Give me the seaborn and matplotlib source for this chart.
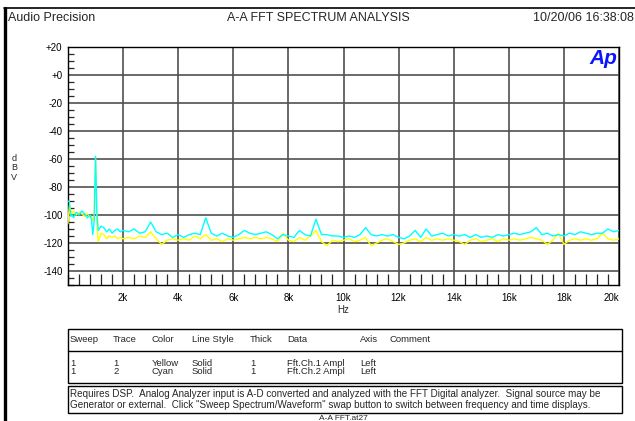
import numpy as np
import pandas as pd
import seaborn as sns
import matplotlib.pyplot as plt
from matplotlib.lines import Line2D
from matplotlib.patches import Rectangle
from matplotlib.ticker import MultipleLocator, FixedLocator, FixedFormatter

# frequency grid (Hz): finer around the 1 kHz tone, 200 Hz steps above 2 kHz
freq_low = [0, 50, 100, 150, 200, 300, 400, 500, 600, 700, 800, 850, 900, 950,
            1000, 1050, 1100, 1200, 1300, 1400, 1500, 1600, 1700, 1800, 1900, 2000]
freq_high = list(range(2200, 20001, 200))

# Trace 1 - Fft.Ch.1 Ampl (yellow), dBV
ch1_low = [-106, -93, -97, -99, -97, -100, -98, -99, -101, -99, -102, -101, -104, -102,
           -60, -108, -119, -113, -114, -117, -115, -116, -115, -117, -116, -117]
ch1_high = [
    -116, -117, -115, -116, -112,
    -117, -121, -118, -117, -118,
    -117, -118, -115, -117, -114,
    -118, -117, -119, -117, -118,
    -117, -116, -117, -116, -117,
    -116, -117, -119, -113, -118,
    -119, -116, -118, -115, -111,
    -119, -122, -118, -119, -118,
    -117, -119, -118, -116, -122,
    -120, -118, -117, -119, -121,
    -120, -118, -117, -119, -116,
    -118, -117, -118, -117, -118,
    -119, -121, -118, -117, -119,
    -118, -117, -119, -117, -118,
    -117, -118, -117, -116, -117,
    -118, -121, -118, -113, -121,
    -118, -117, -118, -117, -118,
    -117, -113, -117, -118, -117,
]

# Trace 2 - Fft.Ch.2 Ampl (cyan), dBV
ch2_low = [-90, -90.5, -101, -100, -102, -98, -100, -97, -99, -102, -100, -103, -114, -104,
           -58, -100, -111, -108, -109, -112, -110, -113, -111, -110, -112, -111]
ch2_high = [
    -112, -110, -113, -112, -105,
    -112, -114, -113, -116, -114,
    -116, -114, -113, -114, -102,
    -113, -115, -113, -115, -116,
    -114, -111, -113, -114, -113,
    -112, -114, -117, -114, -115,
    -116, -111, -114, -115, -103,
    -114, -114, -115, -115, -116,
    -115, -116, -114, -109, -114,
    -115, -114, -115, -114, -116,
    -117, -115, -111, -116, -110,
    -115, -114, -113, -115, -114,
    -115, -114, -116, -114, -116,
    -115, -116, -114, -115, -114,
    -113, -114, -113, -112, -109,
    -114, -113, -115, -114, -115,
    -113, -114, -112, -113, -114,
    -113, -113, -110, -112, -111,
]

y_ticks = [20, 0, -20, -40, -60, -80, -100, -120, -140]
y_labels = ['+20', '+0', '-20', '-40', '-60', '-80', '-100', '-120', '-140']
x_ticks = [2000, 4000, 6000, 8000, 10000, 12000, 14000, 16000, 18000, 20000]
x_labels = ['2k', '4k', '6k', '8k', '10k', '12k', '14k', '16k', '18k', '20k']

table_header = ['Sweep', 'Trace', 'Color', 'Line Style', 'Thick', 'Data', 'Axis', 'Comment']
table_rows = [
    ['1', '1', 'Yellow', 'Solid', '1', 'Fft.Ch.1 Ampl', 'Left', ''],
    ['1', '2', 'Cyan', 'Solid', '1', 'Fft.Ch.2 Ampl', 'Left', ''],
]
note_lines = [
    'Requires DSP.  Analog Analyzer input is A-D converted and analyzed with the FFT Digital analyzer.  Signal source may be',
    'Generator or external.  Click "Sweep Spectrum/Waveform" swap button to switch between frequency and time displays.',
]

freq = freq_low + freq_high
df = pd.DataFrame({
    'freq': freq + freq,
    'level': ch1_low + ch1_high + ch2_low + ch2_high,
    'trace': ['Ch.1'] * len(freq) + ['Ch.2'] * len(freq),
})

sns.set_style('white')
plt.rcParams['font.family'] = ['Liberation Sans', 'DejaVu Sans']

W, H = 635, 421
def fx(p):
    return p / W
def fy(p):
    return 1 - p / H

fig = plt.figure(figsize=(W / 100, H / 100), dpi=100)
ax = fig.add_axes([fx(68), fy(285), fx(619) - fx(68), fy(47) - fy(285)])

sns.lineplot(data=df, x='freq', y='level', hue='trace', hue_order=['Ch.1', 'Ch.2'],
             palette={'Ch.1': '#ffff00', 'Ch.2': '#00ffff'}, estimator=None, sort=False,
             lw=1.0, legend=False, ax=ax, zorder=3)

ax.set_xlim(0, 20000)
ax.set_ylim(-150, 20)
ax.set_xlabel('')
ax.set_ylabel('')

ax.yaxis.set_major_locator(FixedLocator(y_ticks))
ax.yaxis.set_major_formatter(FixedFormatter(y_labels))
ax.yaxis.set_minor_locator(MultipleLocator(5))
ax.xaxis.set_major_locator(FixedLocator(x_ticks))
ax.xaxis.set_major_formatter(FixedFormatter(x_labels))
ax.xaxis.set_minor_locator(MultipleLocator(400))

ax.tick_params(axis='both', which='major', length=0, labelsize=7, colors='black')
ax.tick_params(axis='y', which='major', pad=4)
ax.tick_params(axis='x', which='major', pad=6)
ax.tick_params(axis='y', which='minor', direction='in', length=4, width=0.9, left=True)
ax.tick_params(axis='x', which='minor', direction='in', length=8, width=0.9, bottom=True)
ax.get_xticklabels()[-1].set_horizontalalignment('right')

ax.grid(True, which='major', color='#505050', lw=1.2, zorder=1)
for s in ax.spines.values():
    s.set_color('black')
    s.set_linewidth(1)

ax.text(0.997, 0.99, 'Ap', transform=ax.transAxes, ha='right', va='top',
        color='#0a14ff', fontsize=15, fontweight='bold', fontstyle='italic', zorder=5)

fig.text(fx(343), fy(310), 'Hz', ha='center', va='center', fontsize=7)
fig.text(fx(14), fy(168), 'd\nB\nV', ha='center', va='center', fontsize=6.5, linespacing=1.1)

# header
fig.text(fx(8), fy(18), 'Audio Precision', ha='left', va='center', fontsize=9)
fig.text(fx(318), fy(18), 'A-A FFT SPECTRUM ANALYSIS', ha='center', va='center', fontsize=9)
fig.text(fx(634), fy(18), '10/20/06 16:38:08', ha='right', va='center', fontsize=9)

# outer frame
fig.add_artist(Line2D([fx(5), fx(5)], [0, fy(8)], color='black', lw=2.4))
fig.add_artist(Line2D([fx(4), 1], [fy(8), fy(8)], color='black', lw=1.2))

# sweep table
tl, tr = 68, 622
fig.add_artist(Rectangle((fx(tl), fy(383)), fx(tr) - fx(tl), fy(329) - fy(383),
                         transform=fig.transFigure, fill=False, ec='black', lw=1))
fig.add_artist(Line2D([fx(tl), fx(tr)], [fy(351), fy(351)], color='black', lw=1))
col_x = [70, 113, 152, 192, 250, 287, 360, 389]
for cx, h in zip(col_x, table_header):
    fig.text(fx(cx), fy(340), h, ha='left', va='center', fontsize=6.8)
for ry, row in zip([363, 372], table_rows):
    for cx, v in zip(col_x, row):
        fig.text(fx(cx), fy(ry), v, ha='left', va='center', fontsize=6.8)

fig.add_artist(Rectangle((fx(tl), fy(413)), fx(tr) - fx(tl), fy(386) - fy(413),
                         transform=fig.transFigure, fill=False, ec='black', lw=1))
for ry, line in zip([394, 405], note_lines):
    fig.text(fx(70), fy(ry), line, ha='left', va='center', fontsize=7.1)

fig.text(fx(343), fy(418), 'A-A FFT.at27', ha='center', va='center', fontsize=6)

fig.savefig('out.png', dpi=100)
